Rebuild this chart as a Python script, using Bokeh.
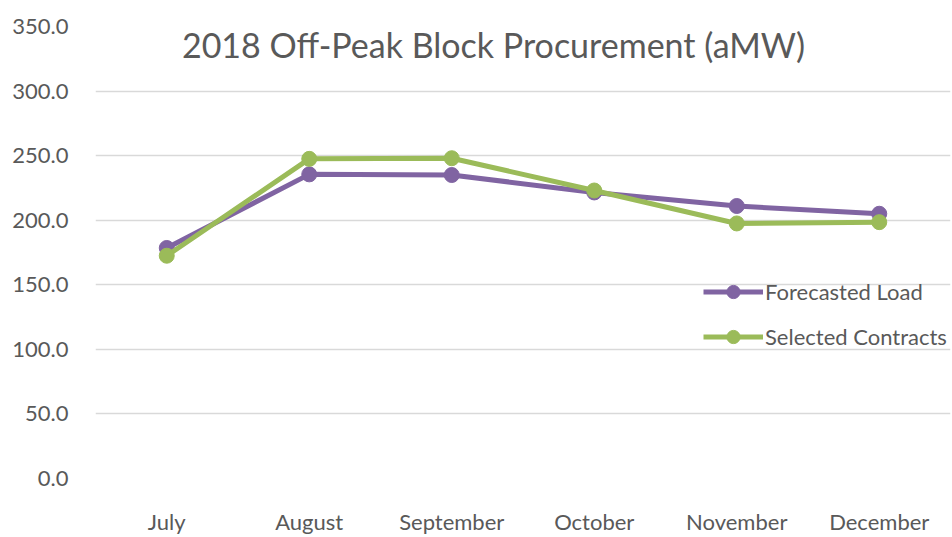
from bokeh.plotting import figure
from bokeh.models import FactorRange, Range1d, FixedTicker, NumeralTickFormatter, Legend, LegendItem, Label, ColumnDataSource
from bokeh.embed import file_html
from bokeh.resources import INLINE

months = ["July", "August", "September", "October", "November", "December"]
forecasted_load = [178.5, 235.5, 235.0, 221.5, 211.0, 205.0]
selected_contracts = [172.5, 247.5, 248.0, 223.0, 197.5, 198.5]
y_ticks = [0, 50, 100, 150, 200, 250, 300, 350]
title_text = "2018 Off-Peak Block Procurement (aMW)"

FONT = "Lato"
TXT = "#595959"
PURPLE = "#8064a2"
GREEN = "#9bbb59"

p = figure(width=952, height=537, output_backend="svg", toolbar_location=None,
           x_range=FactorRange(factors=months), y_range=Range1d(0, 350),
           min_border_left=95, min_border_right=2, min_border_top=26, min_border_bottom=44)
p.outline_line_color = None
p.background_fill_color = "white"
p.border_fill_color = "white"

p.xgrid.grid_line_color = None
p.ygrid.grid_line_color = "#d9d9d9"
p.ygrid.grid_line_width = 1.5

p.yaxis.ticker = FixedTicker(ticks=y_ticks)
p.yaxis.formatter = NumeralTickFormatter(format="0.0")
for ax in (p.xaxis[0], p.yaxis[0]):
    ax.axis_line_color = None
    ax.major_tick_line_color = None
    ax.minor_tick_line_color = None
    ax.major_label_text_font = FONT
    ax.major_label_text_font_size = "22px"
    ax.major_label_text_color = TXT
p.yaxis.major_label_standoff = 21
p.xaxis.major_label_standoff = 23

src = ColumnDataSource(dict(m=months, f=forecasted_load, s=selected_contracts))

l1 = p.line("m", "f", source=src, line_color=PURPLE, line_width=5)
c1 = p.scatter("m", "f", source=src, size=15, fill_color=PURPLE, line_color=PURPLE)
l2 = p.line("m", "s", source=src, line_color=GREEN, line_width=5)
c2 = p.scatter("m", "s", source=src, size=15, fill_color=GREEN, line_color=GREEN)

legend = Legend(items=[LegendItem(label="Forecasted Load", renderers=[l1, c1]),
                       LegendItem(label="Selected Contracts", renderers=[l2, c2])],
                location=(608, 125), padding=0, margin=0, spacing=12,
                glyph_width=60, glyph_height=33, label_height=33, label_standoff=2,
                border_line_color=None, background_fill_alpha=0,
                label_text_font=FONT, label_text_font_size="22px", label_text_color=TXT)
p.add_layout(legend, "center")

p.add_layout(Label(x=398, y=434, x_units="screen", y_units="screen", text=title_text,
                   text_align="center", text_baseline="alphabetic", text_font=FONT,
                   text_font_size="34px", text_color=TXT))

open("out.html", "w").write(file_html(p, INLINE))
